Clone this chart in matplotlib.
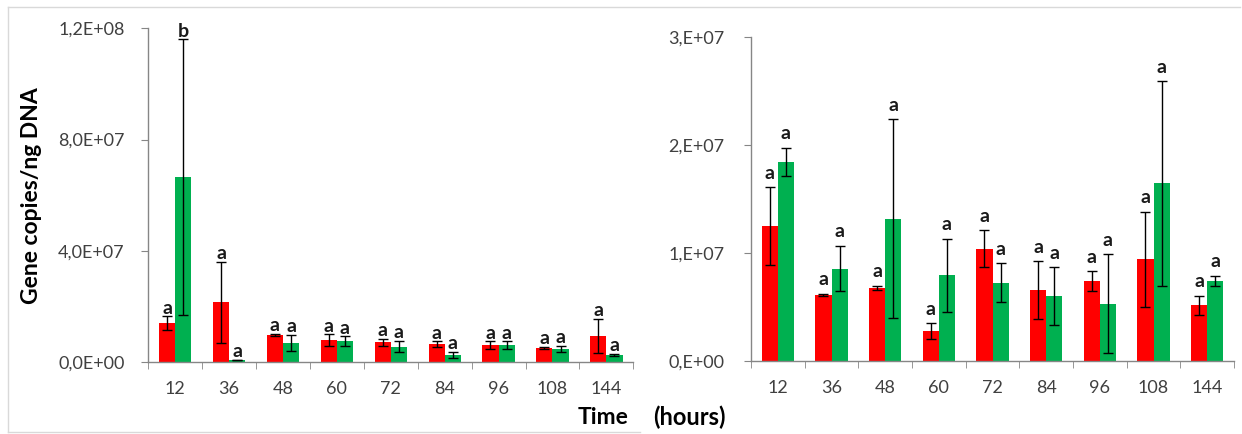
import matplotlib
matplotlib.use('Agg')
import matplotlib.pyplot as plt
import numpy as np
from matplotlib.lines import Line2D

plt.rcParams['font.family'] = ['Lato', 'DejaVu Sans']

times = ['12', '36', '48', '60', '72', '84', '96', '108', '144']

# left panel
red_left = [1.39e7, 2.14e7, 0.98e7, 0.79e7, 0.71e7, 0.64e7, 0.60e7, 0.50e7, 0.94e7]
red_left_err = [0.25e7, 1.45e7, 0.03e7, 0.20e7, 0.12e7, 0.10e7, 0.14e7, 0.04e7, 0.62e7]
green_left = [6.65e7, 0.06e7, 0.68e7, 0.75e7, 0.55e7, 0.26e7, 0.60e7, 0.47e7, 0.25e7]
green_left_err = [4.95e7, 0.0, 0.30e7, 0.17e7, 0.20e7, 0.10e7, 0.14e7, 0.12e7, 0.03e7]
red_left_letters = ['a'] * 9
green_left_letters = ['b'] + ['a'] * 8
left_ticks = [0, 4e7, 8e7, 1.2e8]
left_ticklabels = ['0,0E+00', '4,0E+07', '8,0E+07', '1,2E+08']

# right panel
red_right = [1.25e7, 0.615e7, 0.677e7, 0.278e7, 1.042e7, 0.656e7, 0.742e7, 0.943e7, 0.517e7]
red_right_err = [0.36e7, 0.01e7, 0.02e7, 0.07e7, 0.17e7, 0.27e7, 0.09e7, 0.44e7, 0.09e7]
green_right = [1.847e7, 0.857e7, 1.32e7, 0.795e7, 0.724e7, 0.60e7, 0.532e7, 1.646e7, 0.742e7]
green_right_err = [0.13e7, 0.21e7, 0.92e7, 0.34e7, 0.18e7, 0.27e7, 0.46e7, 0.95e7, 0.05e7]
red_right_letters = ['a'] * 9
green_right_letters = ['a'] * 9
right_ticks = [0, 1e7, 2e7, 3e7]
right_ticklabels = ['0,E+00', '1,E+07', '2,E+07', '3,E+07']

RED = '#ff0000'
GREEN = '#00b050'
AXIS = '#868686'
TXT = '#404040'

W, H = 1242, 434
fig = plt.figure(figsize=(W / 100, H / 100), dpi=100)


def panel(rect, red, red_err, green, green_err, red_let, green_let,
          ticks, ticklabels, ypad, let_off):
    ax = fig.add_axes(rect)
    x = np.arange(len(times))
    w = 0.3
    ax.bar(x - w / 2, red, w, color=RED, zorder=2)
    ax.bar(x + w / 2, green, w, color=GREEN, zorder=2)
    ax.errorbar(x - w / 2, red, yerr=red_err, fmt='none', ecolor='black',
                elinewidth=1, capsize=3.5, capthick=1, zorder=3)
    ax.errorbar(x + w / 2, green, yerr=green_err, fmt='none', ecolor='black',
                elinewidth=1, capsize=3.5, capthick=1, zorder=3)
    # significance letters above the error bars
    for xs, vals, errs, lets in [(x - w / 2, red, red_err, red_let),
                                 (x + w / 2, green, green_err, green_let)]:
        for xi, v, e, l in zip(xs, vals, errs, lets):
            ax.annotate(l, (xi, v + e), xytext=(0, let_off), textcoords='offset points',
                        ha='center', va='center', fontsize=14, fontweight='bold',
                        color='#1a1a1a', annotation_clip=False)
    ax.set_xlim(-0.5, len(times) - 0.5)
    ax.set_ylim(0, ticks[-1])
    ax.set_yticks(ticks)
    ax.set_yticklabels(ticklabels)
    ax.set_xticks(x)
    ax.set_xticklabels(times)
    ax.set_xticks(np.arange(-0.5, len(times)), minor=True)
    ax.tick_params(axis='x', which='major', length=0, pad=14, labelsize=13, labelcolor=TXT)
    ax.tick_params(axis='x', which='minor', length=5, color=AXIS, direction='out')
    ax.tick_params(axis='y', length=5, color=AXIS, pad=ypad, labelsize=13, labelcolor=TXT)
    for s in ['top', 'right']:
        ax.spines[s].set_visible(False)
    for s in ['left', 'bottom']:
        ax.spines[s].set_color(AXIS)
        ax.spines[s].set_linewidth(1)
    return ax


panel([148.3 / W, 1 - 362 / H, 485 / W, 333.7 / H], red_left, red_left_err,
      green_left, green_left_err, red_left_letters, green_left_letters,
      left_ticks, left_ticklabels, 12, 6)
panel([751 / W, 1 - 361 / H, 483 / W, 323.7 / H], red_right, red_right_err,
      green_right, green_right_err, red_right_letters, green_right_letters,
      right_ticks, right_ticklabels, 14, 10)

fig.text(32 / W, 1 - 196 / H, 'Gene copies/ng DNA', rotation=90, ha='center', va='center',
         fontsize=16.5, fontweight='bold', color='black')
fig.text(578 / W, 1 - 417 / H, 'Time', ha='left', va='center',
         fontsize=16.5, fontweight='bold', color='black')
fig.text(653 / W, 1 - 417 / H, '(hours)', ha='left', va='center',
         fontsize=17, fontweight='bold', color='black')

# light frame around the chart areas
frame = '#d9d9d9'
fig.add_artist(Line2D([8 / W, 8 / W], [1 - 7 / H, 1 - 432 / H], color=frame, lw=1))
fig.add_artist(Line2D([8 / W, 1240 / W], [1 - 7 / H, 1 - 7 / H], color=frame, lw=1))
fig.add_artist(Line2D([8 / W, 640 / W], [1 - 432 / H, 1 - 432 / H], color=frame, lw=1))

fig.savefig('out.png', dpi=100)
